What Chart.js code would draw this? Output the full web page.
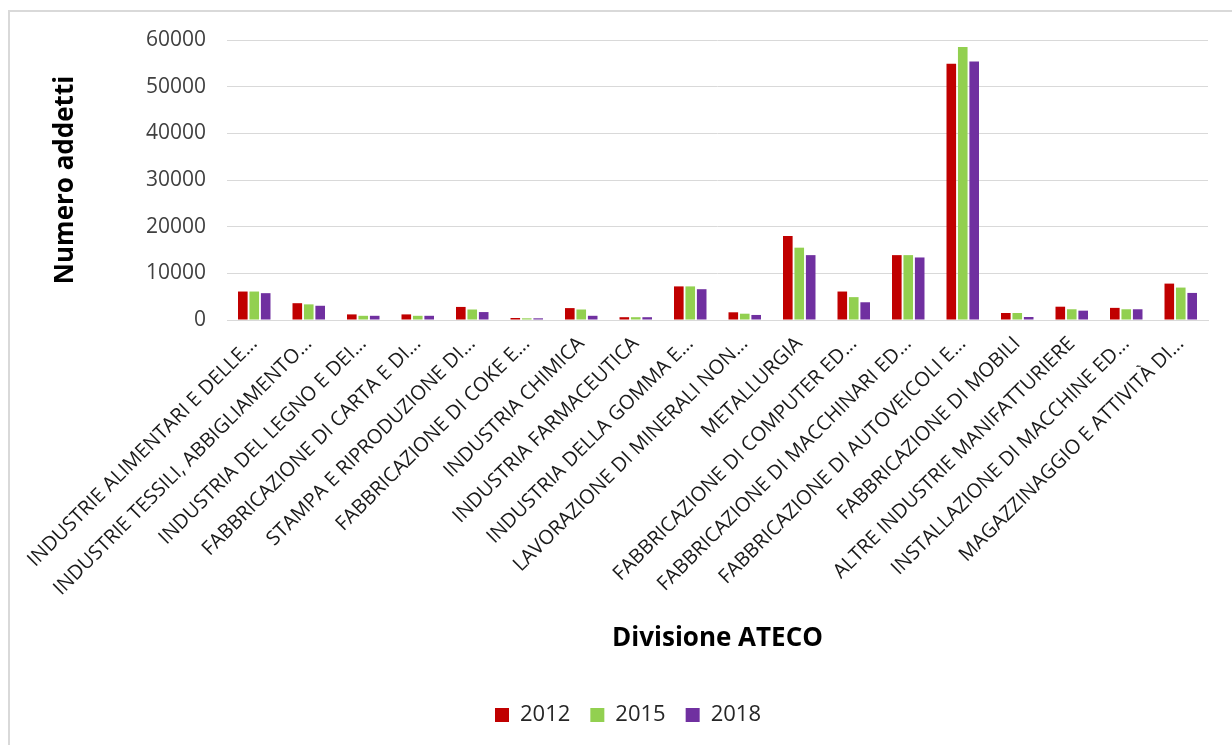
<!DOCTYPE html>
<html>
<head>
<meta charset="utf-8">
<script src="https://cdn.jsdelivr.net/npm/chart.js@4/dist/chart.umd.min.js"></script>
<style>
  body { margin: 0; background: #fff; }
  #wrap { position: relative; width: 1232px; height: 745px; overflow: hidden; }
  #frame { position: absolute; left: 8px; top: 10px; width: 1240px; height: 760px;
           border-left: 2px solid #d9d9d9; border-top: 2px solid #d9d9d9; }
  canvas { position: absolute; left: 0; top: 0; }
</style>
</head>
<body>
<div id="wrap">
  <div id="frame"></div>
  <canvas id="chart" width="1232" height="745"></canvas>
</div>
<script>
const categories = [
  'INDUSTRIE ALIMENTARI E DELLE...',
  'INDUSTRIE TESSILI, ABBIGLIAMENTO...',
  'INDUSTRIA DEL LEGNO E DEI...',
  'FABBRICAZIONE DI CARTA E DI...',
  'STAMPA E RIPRODUZIONE DI...',
  'FABBRICAZIONE DI COKE E...',
  'INDUSTRIA CHIMICA',
  'INDUSTRIA FARMACEUTICA',
  'INDUSTRIA DELLA GOMMA E...',
  'LAVORAZIONE DI MINERALI NON...',
  'METALLURGIA',
  'FABBRICAZIONE DI COMPUTER ED...',
  'FABBRICAZIONE DI MACCHINARI ED...',
  'FABBRICAZIONE DI AUTOVEICOLI E...',
  'FABBRICAZIONE DI MOBILI',
  'ALTRE INDUSTRIE MANIFATTURIERE',
  'INSTALLAZIONE DI MACCHINE ED...',
  'MAGAZZINAGGIO E ATTIVITÀ DI...'
];

const values2012 = [6100, 3600, 1200, 1200, 2800, 430, 2550, 600, 7200, 1650, 18000, 6100, 13900, 54900, 1500, 2850, 2600, 7800];
const values2015 = [6100, 3350, 900, 900, 2250, 360, 2250, 600, 7200, 1350, 15500, 4900, 13900, 58500, 1500, 2300, 2300, 6950];
const values2018 = [5750, 3050, 900, 900, 1700, 360, 900, 600, 6600, 1080, 13900, 3800, 13400, 55400, 640, 2000, 2300, 5800];

const yTicks = [0, 10000, 20000, 30000, 40000, 50000, 60000];

const fontName = '"Open Sans", "DejaVu Sans", sans-serif';

const ctx = document.getElementById('chart').getContext('2d');

new Chart(ctx, {
  type: 'bar',
  data: {
    labels: categories,
    datasets: [
      { label: '2012', data: values2012, backgroundColor: '#C00000' },
      { label: '2015', data: values2015, backgroundColor: '#92D050' },
      { label: '2018', data: values2018, backgroundColor: '#7030A0' }
    ]
  },
  options: {
    responsive: false,
    animation: false,
    layout: { padding: { top: 40, left: 48, right: 24, bottom: 9 } },
    datasets: {
      bar: { categoryPercentage: 0.63, barPercentage: 0.84 }
    },
    plugins: {
      legend: {
        position: 'bottom',
        labels: {
          color: '#262626',
          font: { family: fontName, size: 22 },
          boxWidth: 14,
          boxHeight: 14,
          padding: 20
        }
      },
      tooltip: { enabled: false }
    },
    scales: {
      x: {
        afterFit: (scale) => { scale.height = 364; },
        grid: { display: false },
        border: { color: '#d9d9d9', width: 1 },
        ticks: {
          color: '#1a1a1a',
          font: { family: fontName, size: 20 },
          minRotation: 45,
          maxRotation: 45,
          autoSkip: false,
          padding: 4
        },
        title: {
          display: true,
          text: 'Divisione ATECO',
          color: '#000',
          font: { family: fontName, size: 26, weight: 'bold' },
          padding: { top: 10, bottom: 30 }
        }
      },
      y: {
        min: 0,
        max: 60000,
        afterBuildTicks: (scale) => { scale.ticks = yTicks.map(v => ({ value: v })); },
        afterFit: (scale) => { scale.width = 179; },
        grid: { color: '#d9d9d9', lineWidth: 1, drawTicks: false },
        border: { display: false },
        ticks: {
          color: '#404040',
          font: { family: fontName, size: 21 },
          padding: 21,
          callback: (v) => String(v)
        },
        title: {
          display: true,
          text: 'Numero addetti',
          color: '#000',
          font: { family: fontName, size: 26, weight: 'bold' },
          padding: { top: 2, bottom: 0 }
        }
      }
    }
  }
});
</script>
</body>
</html>
